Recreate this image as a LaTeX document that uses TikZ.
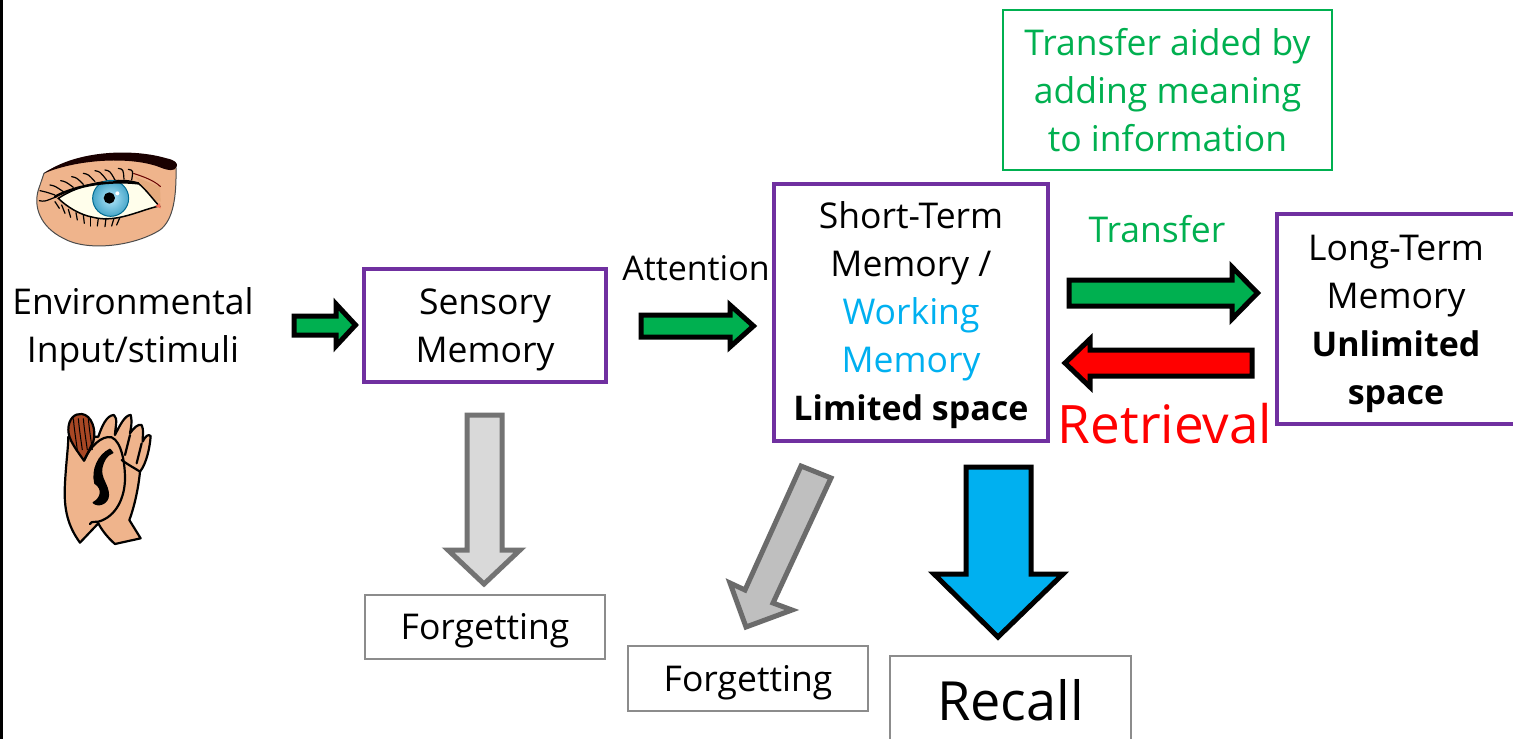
\documentclass[tikz,border=0pt]{standalone}
\usepackage{fontspec}
\setmainfont{Open Sans}
\definecolor{purp}{HTML}{7030A0}
\definecolor{grn}{HTML}{00B050}
\definecolor{blu}{HTML}{00B0F0}
\definecolor{skin}{HTML}{EFB48C}
\newcommand{\bt}[1]{{\fontsize{34}{48}\selectfont\bfseries #1}}
\begin{document}
\begin{tikzpicture}[x=1pt,y=-1pt,
  txt/.style={font=\fontsize{35.5}{48}\selectfont,align=center,text=black,inner sep=0pt},
  big/.style={font=\fontsize{54}{58}\selectfont,inner sep=0pt},
  mem/.style={draw=purp,line width=4pt,inner sep=0pt,fill=white},
  thin box/.style={draw=black!45,line width=1.3pt,inner sep=0pt},
  green arrow/.style={draw=black,line width=5pt,fill=grn,miter limit=8},
  red arrow/.style={draw=black,line width=5pt,fill=red,miter limit=8},
  blue arrow/.style={draw=black,line width=5pt,fill=blu,miter limit=8},
  pale arrow/.style={draw=black!55,line width=5pt,fill=black!15,miter limit=8},
  grey arrow/.style={draw=black!58,line width=5pt,fill=black!25,miter limit=8},
  ink/.style={draw=black,line width=2.2pt,line join=round,line cap=round}]
\useasboundingbox (0,0) rectangle (1513,739);
\fill[white] (0,0) rectangle (1513,739);
\fill[black] (0,0) rectangle (2.5,739);

% eye
\begin{scope}[shift={(0pt,-130pt)},x=0.3333pt,y=-0.3333pt]
  \path[fill=skin,draw=black!70,line width=1pt]
    (132,130) .. controls (230,70) and (400,60) .. (528,110)
    .. controls (530,200) and (520,270) .. (480,300)
    .. controls (400,350) and (260,365) .. (190,325)
    .. controls (120,290) and (100,230) .. (115,180) -- cycle;
  \fill[black!90!red] (132,130) .. controls (230,60) and (400,55) .. (500,85)
    .. controls (525,90) and (535,100) .. (530,110)
    .. controls (525,125) and (505,122) .. (480,112)
    .. controls (400,80) and (240,85) .. (132,130) -- cycle;
  \fill[skin!80!brown] (405,140) -- (480,170) -- (482,215) -- (460,210) -- cycle;
  \draw[red!40!black,line width=1pt] (400,130) .. controls (430,140) and (460,150) .. (482,170);
  \path[fill=white!92!yellow,draw=black,line width=1.5pt]
    (175,205) .. controls (250,155) and (370,140) .. (415,160)
    .. controls (440,180) and (460,210) .. (478,228)
    .. controls (420,240) and (350,280) .. (280,262)
    .. controls (240,255) and (200,230) .. (175,205) -- cycle;
  \shade[inner color=blu!30,outer color=blu!60!gray!90] (332,205) circle (54);
  \draw[blu!60!black,line width=1pt] (332,205) circle (54);
  \fill[black] (328,204) circle (17);
  \fill[white] (352,190) circle (6);
  \fill[red!40!skin] (465,228) -- (480,220) -- (482,235) -- cycle;
  \draw[black,line width=2.5pt,line cap=round] (165,200) .. controls (230,165) and (330,150) .. (415,160);
  \foreach \a/\b/\c/\d in {120/182/165/195,118/212/170/200,150/165/190/185,182/152/220/172,215/140/250/163,250/130/285/155,285/122/320/150,315/120/345/150,355/115/372/148,385/118/395/150}
    \draw[black,line width=1.2pt,line cap=round] (\a,\b) .. controls (\a+15,\b+3) .. (\c,\d);
  \foreach \a/\b/\c/\d in {165/215/178/235,185/225/195/250,205/238/212/262,228/248/232/270,250/255/253/280,272/260/272/288,295/265/292/288,318/265/315/290,342/265/335/288,360/262/350/285}
    \draw[black,line width=1.2pt,line cap=round] (\a,\b) -- (\c,\d);
\end{scope}

% ear
\begin{scope}[shift={(40pt,-400pt)},x=0.3333pt,y=-0.3333pt]
  \path[fill=skin,ink] (175,110) .. controls (185,80) and (200,45) .. (222,45)
    .. controls (235,55) and (225,85) .. (225,105)
    .. controls (240,75) and (255,45) .. (272,45)
    .. controls (278,70) and (272,85) .. (270,100)
    .. controls (280,85) and (295,70) .. (305,75)
    .. controls (312,90) and (308,105) .. (308,125)
    .. controls (315,110) and (325,100) .. (332,108)
    .. controls (330,140) and (320,190) .. (300,215)
    .. controls (295,270) and (280,330) .. (268,360)
    -- (302,415) -- (225,432) .. controls (205,415) and (185,390) .. (175,370)
    -- (120,428) .. controls (85,380) and (70,330) .. (75,250)
    .. controls (78,190) and (85,140) .. (85,110) -- cycle;
  \path[fill=brown!70!red!80!black,ink] (85,90) .. controls (85,55) and (105,40) .. (125,42)
    .. controls (155,45) and (170,90) .. (160,125) -- (132,182) .. controls (110,150) and (85,120) .. (85,90) -- cycle;
  \foreach \a in {100,115,130,145}
    \draw[black,line width=1pt] (\a,55) .. controls (\a+3,90) and (\a+8,120) .. (\a+12,150);
  \draw[ink] (132,182) .. controls (150,140) and (185,105) .. (215,112)
    .. controls (245,125) and (255,190) .. (255,235)
    .. controls (255,290) and (230,350) .. (175,365)
    .. controls (165,368) and (155,362) .. (150,372);
  \path[fill=black,draw=black,line width=1.5pt,line join=round] (210,148) .. controls (175,165) and (155,210) .. (165,250)
    .. controls (190,265) and (185,295) .. (160,308)
    .. controls (175,322) and (205,310) .. (205,285)
    .. controls (205,255) and (180,235) .. (185,205)
    .. controls (190,180) and (200,165) .. (218,158) -- cycle;
  \draw[ink] (245,180) .. controls (265,195) and (285,205) .. (300,215);
  \draw[ink] (305,130) -- (290,190);
  \draw[ink] (270,105) -- (255,165);
\end{scope}

% text at left
\node[txt] (env) at (133,329) {Environmental\\Input/stimuli};

% boxes
\node[mem,minimum width=242pt,minimum height=113pt] (sens) at (485,325.5) {};
\node[txt] (senst) at (485,329.5) {Sensory\\Memory};
\node[mem,minimum width=274pt,minimum height=257pt] (stm) at (911,312.5) {};
\node[txt] (stmt) at (911,315.5) {Short-Term\\Memory /\\\textcolor{blu}{Working}\\\textcolor{blu}{Memory}\\\bt{Limited space}};
\node[mem,minimum width=280pt,minimum height=210pt,anchor=west] (ltm) at (1275,319) {};
\node[txt] (ltmt) at (1396,324) {Long-Term\\Memory\\\bt{Unlimited}\\\bt{space}};
\node[draw=grn,line width=1.3pt,minimum width=329pt,minimum height=160pt,txt,text=grn] (aid) at (1167.5,90) {Transfer aided by\\adding meaning\\to information};
\node[thin box,minimum width=240pt,minimum height=64pt] (f1) at (485,627) {};
\node[txt] (f1t) at (485,631) {Forgetting};
\node[thin box,minimum width=240pt,minimum height=65pt] (f2) at (748,678.5) {};
\node[txt] (f2t) at (748,683) {Forgetting};
\node[thin box,minimum width=241pt,minimum height=88pt,big] (rec) at (1010.5,700) {Recall};

% labels
\node[txt,font=\fontsize{34}{48}\selectfont] (att) at (696,268) {Attention};
\node[txt,text=grn] (tr) at (1157,229) {Transfer};
\node[big,font=\fontsize{53}{58}\selectfont,text=red] (ret) at (1165,424) {Retrieval};

% block arrows
\draw[green arrow] (294,316) -- (336,316) -- (336,304) -- (355.5,325) -- (336,346) -- (336,335) -- (294,335) -- cycle;
\draw[green arrow] (641,315) -- (730,315) -- (730,305) -- (753.5,326) -- (730,347) -- (730,337) -- (641,337) -- cycle;
\draw[green arrow] (1069,280) -- (1232,280) -- (1232,267) -- (1257.5,293) -- (1232,319) -- (1232,306) -- (1069,306) -- cycle;
\draw[red arrow] (1252,350) -- (1090,350) -- (1090,339) -- (1065,363) -- (1090,387) -- (1090,376) -- (1252,376) -- cycle;
\draw[pale arrow] (467,415) -- (502,415) -- (502,550) -- (520,550) -- (484,584) -- (448,550) -- (467,550) -- cycle;
\draw[grey arrow] (801,466) -- (831,478) -- (773,603) -- (792,610) -- (746,627) -- (730,583) -- (745,590) -- cycle;
\draw[blue arrow] (966,467) -- (1031,467) -- (1031,574) -- (1063,574) -- (998,637) -- (934,574) -- (966,574) -- cycle;
\end{tikzpicture}
\end{document}
